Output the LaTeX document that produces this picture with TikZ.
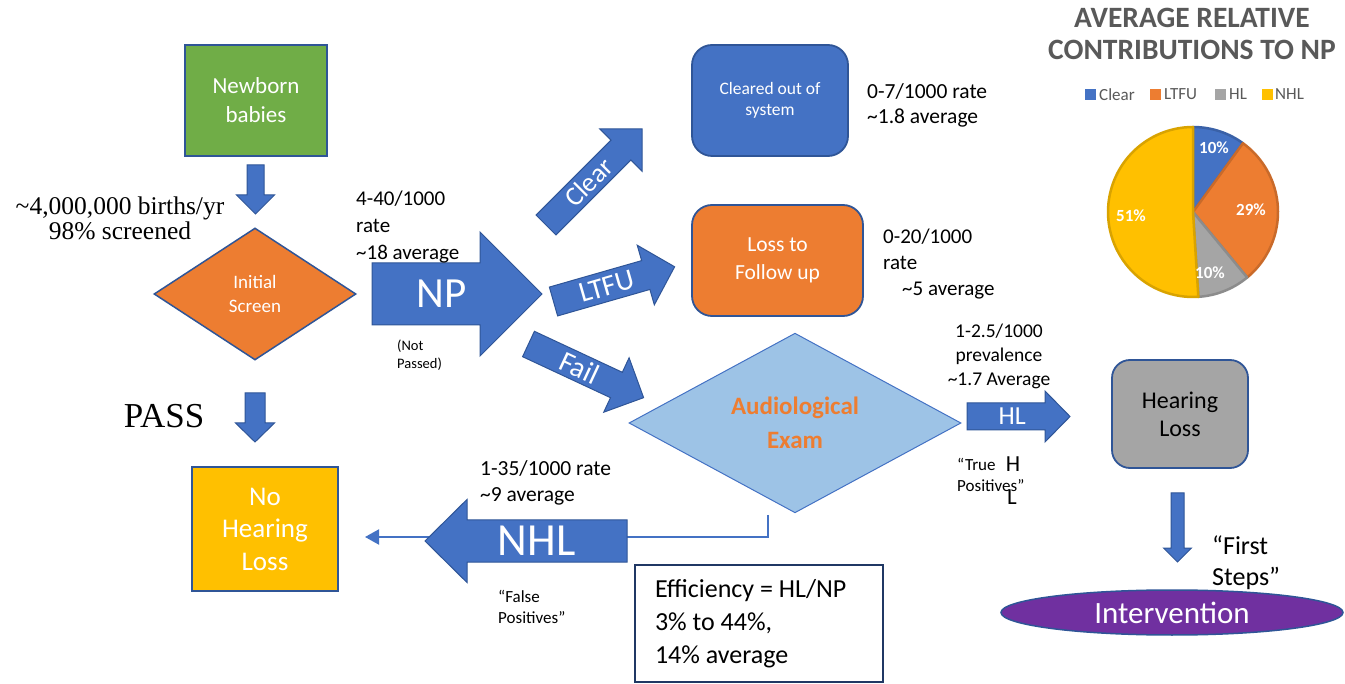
\documentclass[tikz,border=0pt]{standalone}
\usepackage{fontspec}
\setmainfont{Carlito}
\newfontfamily\serifont{Liberation Serif}
\usetikzlibrary{shapes.geometric,arrows.meta}
\definecolor{mblue}{HTML}{4472C4}
\definecolor{bord}{HTML}{2F5597}
\definecolor{morange}{HTML}{ED7D31}
\definecolor{mgreen}{HTML}{70AD47}
\definecolor{myellow}{HTML}{FFC000}
\definecolor{mgray}{HTML}{A5A5A5}
\definecolor{lblue}{HTML}{9DC3E6}
\definecolor{mpurple}{HTML}{7030A0}
\definecolor{tgray}{HTML}{595959}
\definecolor{navy}{HTML}{203864}
\newcommand{\fsz}[2]{\fontsize{#1pt}{#2pt}\selectfont}
\tikzset{
  blockarr/.style={fill=mblue,draw=bord,line width=1pt,line join=miter},
  arrtext/.style={text=white,inner sep=0pt,align=flush center},
  box/.style={draw=bord,line width=2pt,text=white,align=flush center,inner sep=0pt},
  rbox/.style={box,rounded corners=20pt,line width=1.8pt},
  lbl/.style={inner sep=0pt,align=flush left,anchor=west,text=black},
  thinconn/.style={draw=mblue,line width=2pt,-{Triangle[length=14pt,width=15pt]}},
  pieslice/.style={line width=2.5pt,line join=round},
  pielbl/.style={text=white,font=\bfseries\fsz{17}{20},inner sep=0pt},
  leg/.style={text=tgray,font=\fsz{17}{20},inner sep=0pt,anchor=west}
}
% #1 node options, #2 x, #3 y, #4 angle, #5 length, #6 shaft half width, #7 head half width, #8 head length, #9 text
\newcommand{\barrow}[9]{%
  \begin{scope}[shift={(#2,#3)},rotate=#4]
    \draw[blockarr] (0,-#6) -- ({#5-#8},-#6) -- ({#5-#8},-#7) -- (#5,0) -- ({#5-#8},#7) -- ({#5-#8},#6) -- (0,#6) -- cycle;
    \node[arrtext,transform shape,#1] at ({(#5-#8/2)/2},0) {#9};
  \end{scope}}
\begin{document}
\begin{tikzpicture}[x=1pt,y=-1pt]
\useasboundingbox[fill=white] (0,0) rectangle (1345,684);

% thin connector from audiological exam to no hearing loss
\coordinate (nhlstart) at (768,515);
\coordinate (nhlend) at (365,537);
\draw[thinconn] (nhlstart) |- (nhlend);

% boxes
\node[box,fill=mgreen,minimum width=142pt,minimum height=111pt,font=\fsz{23}{29}] (newborn) at (256,100.5) {Newborn\\babies};
\node[diamond,draw=bord,line width=1.5pt,fill=morange,minimum width=202pt,minimum height=132pt,inner sep=0pt,text=white,align=flush center,font=\fsz{19}{24}] (init) at (255,294) {Initial\\Screen};
\node[box,fill=myellow,minimum width=146pt,minimum height=124pt,font=\fsz{27}{32.5}] (nohl) at (265,529) {No\\Hearing\\Loss};
\node[rbox,fill=mblue,minimum width=156pt,minimum height=111pt,font=\fsz{17.5}{21}] (cleared) at (770,100.5) {Cleared out of\\system};
\node[rbox,fill=morange,minimum width=171pt,minimum height=111pt,font=\fsz{21.5}{27.5}] (ltfu) at (777.5,260.5) {Loss to\\Follow up};
\node[diamond,draw=mblue,line width=1pt,fill=lblue,minimum width=332pt,minimum height=146pt,inner sep=0pt,text=morange,align=flush center,font=\bfseries\fsz{25}{34}] (audio) at (795,423) {Audiological\\Exam};
\node[rbox,fill=mgray,text=black,rounded corners=18pt,minimum width=136pt,minimum height=108pt,font=\fsz{24}{28}] (hl) at (1180,414) {Hearing\\Loss};
\node[ellipse,draw=bord,line width=1.5pt,fill=mpurple,text=white,minimum width=342pt,minimum height=45pt,inner sep=0pt,font=\fsz{31}{31}] (interv) at (1172,612.5) {Intervention};
\node[draw=navy,line width=1.5pt,fill=white,minimum width=248pt,minimum height=117pt,text width=208pt,align=flush left,inner sep=0pt,font=\fsz{26}{33}] (eff) at (759,623.5) {Efficiency = HL/NP\\3\% to 44\%,\\14\% average};

% block arrows
\barrow{name=a1}{255.5}{165}{-90}{49}{8.5}{19}{19}{}
\barrow{name=a2}{255}{393}{-90}{49}{10}{19.5}{19}{}
\barrow{name=np,font=\fsz{43}{43}}{372}{294}{0}{170}{31}{62}{62}{NP}
\barrow{name=clear,font=\fsz{27}{27}}{546}{225}{45}{136}{14}{30}{30}{Clear}
\barrow{name=ltfuarr,font=\fsz{29}{29}}{553.5}{301.5}{16}{126}{15}{31}{30}{LTFU}
\barrow{name=fail,font=\fsz{29}{29}}{528.5}{344}{-25}{127}{14}{30}{30}{Fail}
\barrow{name=hlarr,font=\fsz{26}{26}}{967}{416.5}{0}{103}{13.5}{25.5}{25}{HL}
\barrow{name=nhl,rotate=180,font=\fsz{46}{46}}{627}{541}{180}{202}{21}{41.5}{42}{NHL}
\barrow{name=a3}{1177.5}{493}{-90}{69}{6.5}{14}{14}{}

% labels
\node[inner sep=0pt,align=flush center,font=\serifont\fsz{25.5}{25}] (births) at (120,218.5) {\textasciitilde4,000,000 births/yr\\98\% screened};
\node[inner sep=0pt,font=\serifont\fsz{35}{35}] (pass) at (164,416) {PASS};
\node[lbl,font=\fsz{21}{27}] (nprate) at (356,227) {4-40/1000\\rate\\\textasciitilde18 average};
\node[lbl,font=\fsz{14.5}{18}] (notp) at (397,355.5) {(Not\\Passed)};
\node[lbl,font=\fsz{21.5}{25.5}] (clrate) at (867,105.5) {0-7/1000 rate\\\textasciitilde1.8 average};
\node[lbl,font=\fsz{21}{26}] (ltrate) at (883,264) {0-20/1000\\rate\\\hspace*{19pt}\textasciitilde5 average};
\node[inner sep=0pt,align=flush center,font=\fsz{19.5}{24}] (hlrate) at (999,356) {1-2.5/1000\\prevalence\\\textasciitilde1.7 Average};
\node[lbl,font=\fsz{17}{21}] (truep) at (957,474.5) {“True\\Positives”};
\node[inner sep=0pt,font=\fsz{23}{23}] (hh) at (1013,464) {H};
\node[inner sep=0pt,font=\fsz{23}{23}] (ll) at (1012,497) {L};
\node[lbl,font=\fsz{21.5}{26}] (nhlrate) at (480,483) {1-35/1000 rate\\\textasciitilde9 average};
\node[lbl,font=\fsz{17}{21}] (falsep) at (498,606.5) {“False\\Positives”};
\node[lbl,font=\fsz{26}{31}] (firsts) at (1212,562.5) {“First\\Steps”};

% pie chart
\node[inner sep=0pt,align=flush center,text=tgray,font=\bfseries\fsz{29.5}{32}] (title) at (1192,34) {AVERAGE RELATIVE\\CONTRIBUTIONS TO NP};
\fill[mblue] (1085,89) rectangle (1096,100);
\node[leg] (lg1) at (1099,94.5) {Clear};
\fill[morange] (1150,89) rectangle (1161,100);
\node[leg] (lg2) at (1164,94.5) {LTFU};
\fill[mgray] (1215,89) rectangle (1226,100);
\node[leg] (lg3) at (1229,94.5) {HL};
\fill[myellow] (1262,89) rectangle (1273,100);
\node[leg] (lg4) at (1275,94.5) {NHL};

\filldraw[pieslice,fill=mblue,draw=mblue!85!black] (1193,212) -- plot[domain=-90:-54,samples=20] ({1193+85*cos(\x)},{212+85*sin(\x)}) -- cycle;
\filldraw[pieslice,fill=morange,draw=morange!85!black] (1193,212) -- plot[domain=-54:50.4,samples=40] ({1193+85*cos(\x)},{212+85*sin(\x)}) -- cycle;
\filldraw[pieslice,fill=mgray,draw=mgray!85!black] (1193,212) -- plot[domain=50.4:86.4,samples=20] ({1193+85*cos(\x)},{212+85*sin(\x)}) -- cycle;
\filldraw[pieslice,fill=myellow,draw=myellow!85!black] (1193,212) -- plot[domain=86.4:270,samples=60] ({1193+85*cos(\x)},{212+85*sin(\x)}) -- cycle;
\node[pielbl] (p1) at (1214,148) {10\%};
\node[pielbl] (p2) at (1251,210) {29\%};
\node[pielbl] (p3) at (1210,273) {10\%};
\node[pielbl] (p4) at (1131,216) {51\%};
\end{tikzpicture}
\end{document}
